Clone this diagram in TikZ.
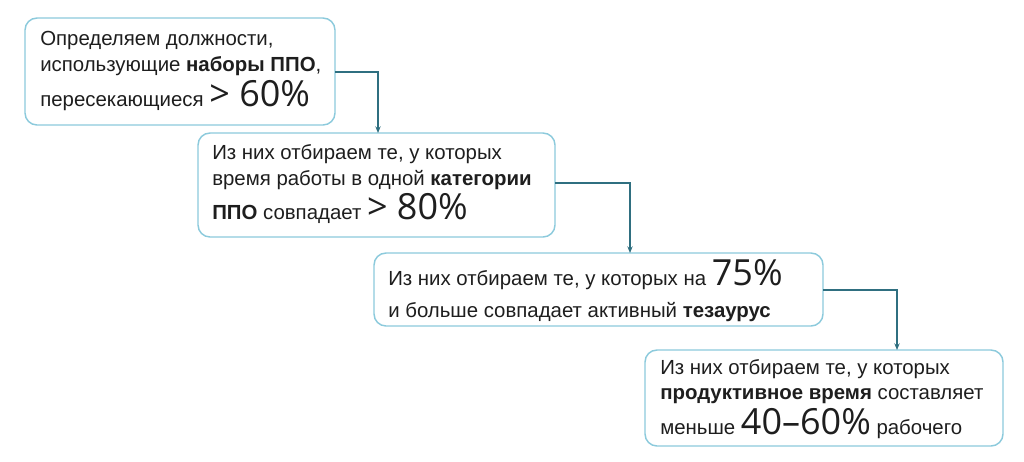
\documentclass[tikz,border=0pt]{standalone}
\usepackage{fontspec}
\setmainfont{Liberation Sans}
\newfontfamily\lightf{Open Sans}
\usetikzlibrary{arrows.meta}
\definecolor{boxc}{HTML}{8CCADC}
\definecolor{arrc}{HTML}{2F6F80}
\definecolor{txt}{HTML}{1E1E1E}
\tikzset{
 box/.style={draw=boxc,line width=1.1pt,rounded corners=9pt,fill=white},
 lbl/.style={anchor=base west,align=left,inner sep=0pt,text=txt,font=\fontsize{15.3}{19}\selectfont},
 conn/.style={draw=arrc,line width=0.8pt,-{Stealth[length=5pt,width=4pt]}}
}
\newcommand{\bignum}[1]{{\lightf\fontsize{27}{27}\selectfont #1}}
\begin{document}
\begin{tikzpicture}[x=0.75pt,y=-0.75pt]
\useasboundingbox (0,0) rectangle (1024,461);
\draw[box] (25,18) rectangle (335,125);
\draw[box] (198,133) rectangle (555,237);
\draw[box] (374,253) rectangle (823,326);
\draw[box] (645,350) rectangle (1003,446);
\coordinate (b1r) at (335,72); \coordinate (b1c) at (378,72); \coordinate (b2t) at (378,133);
\coordinate (b2r) at (555,183); \coordinate (b2c) at (630,183); \coordinate (b3t) at (630,253);
\coordinate (b3r) at (823,290); \coordinate (b3c) at (897,290); \coordinate (b4t) at (897,350);
\draw[conn] (b1r) -- (b1c) -- (b2t);
\draw[conn] (b2r) -- (b2c) -- (b3t);
\draw[conn] (b3r) -- (b3c) -- (b4t);
\node[lbl] (t1a) at (40,45) {Определяем должности,};
\node[lbl] (t1b) at (40,71) {использующие \textbf{наборы ППО},};
\node[lbl] (t1c) at (40,106) {пересекающиеся \bignum{> 60\%}};
\node[lbl] (t2a) at (212,159) {Из них отбираем те, у которых};
\node[lbl] (t2b) at (212,185) {время работы в одной \textbf{категории}};
\node[lbl] (t2c) at (212,219) {\textbf{ППО} совпадает \bignum{> 80\%}};
\node[lbl] (t3a) at (388,285) {Из них отбираем те, у которых на \bignum{75\%}};
\node[lbl] (t3b) at (388,317) {и больше совпадает активный \textbf{тезаурус}};
\node[lbl] (t4a) at (660,374) {Из них отбираем те, у которых};
\node[lbl] (t4b) at (660,399) {\textbf{продуктивное время} составляет};
\node[lbl] (t4c) at (660,434) {меньше \bignum{40–60\%} рабочего};
\end{tikzpicture}
\end{document}
